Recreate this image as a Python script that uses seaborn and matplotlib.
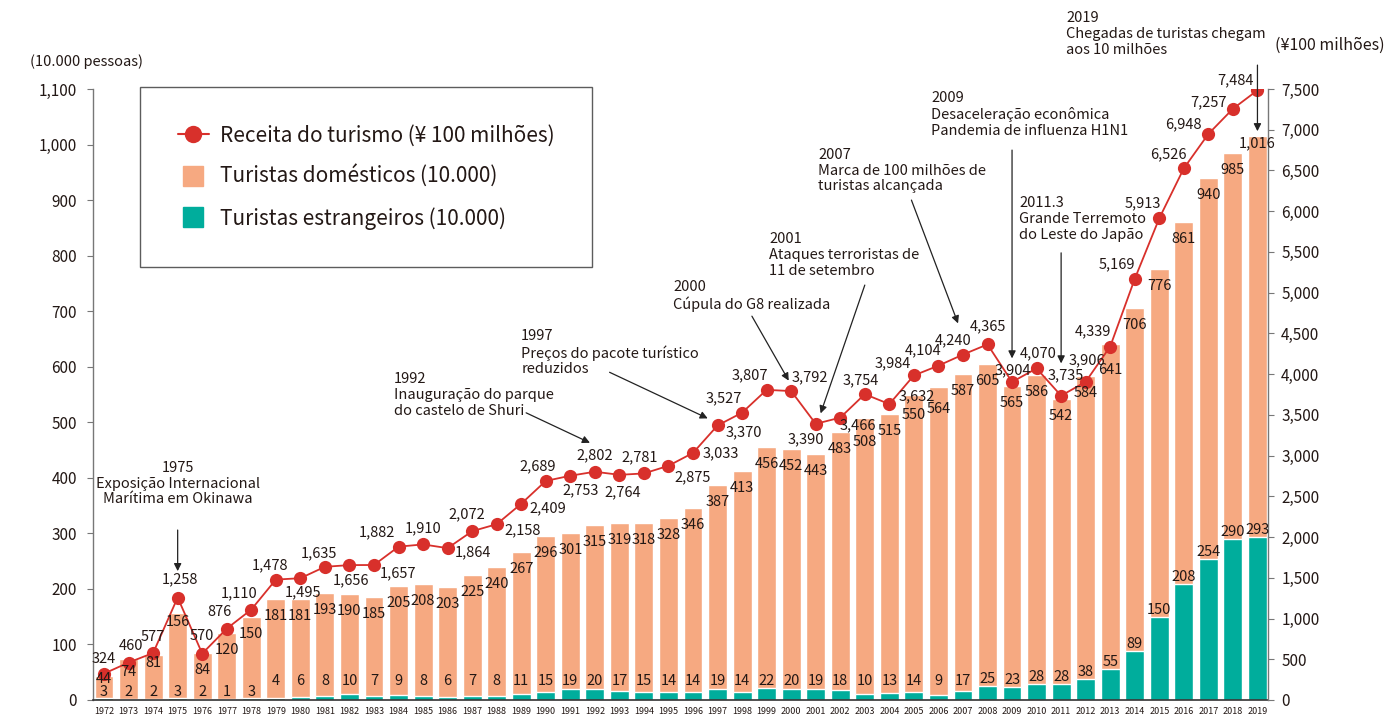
import numpy as np
import pandas as pd
import matplotlib
matplotlib.use("Agg")
import matplotlib.pyplot as plt
from matplotlib.lines import Line2D
from matplotlib.ticker import FuncFormatter, MultipleLocator
import seaborn as sns

# Okinawa tourism: tourist arrivals (10,000 people) and tourism revenue (100 million yen)
years = [1972, 1973, 1974, 1975, 1976, 1977, 1978, 1979, 1980, 1981, 1982, 1983,
         1984, 1985, 1986, 1987, 1988, 1989, 1990, 1991, 1992, 1993, 1994, 1995,
         1996, 1997, 1998, 1999, 2000, 2001, 2002, 2003, 2004, 2005, 2006, 2007,
         2008, 2009, 2010, 2011, 2012, 2013, 2014, 2015, 2016, 2017, 2018, 2019]

# total arrivals (label on top of the orange bar)
total = [44, 74, 81, 156, 84, 120, 150, 181, 181, 193, 190, 185,
         205, 208, 203, 225, 240, 267, 296, 301, 315, 319, 318, 328,
         346, 387, 413, 456, 452, 443, 483, 508, 515, 550, 564, 587,
         605, 565, 586, 542, 584, 641, 706, 776, 861, 940, 985, 1016]

# foreign arrivals
foreign = [3, 2, 2, 3, 2, 1, 3, 4, 6, 8, 10, 7,
           9, 8, 6, 7, 8, 11, 15, 19, 20, 17, 15, 14,
           14, 19, 14, 22, 20, 19, 18, 10, 13, 14, 9, 17,
           25, 23, 28, 28, 38, 55, 89, 150, 208, 254, 290, 293]

# tourism revenue
revenue = [324, 460, 577, 1258, 570, 876, 1110, 1478, 1495, 1635, 1656, 1657,
           1882, 1910, 1864, 2072, 2158, 2409, 2689, 2753, 2802, 2764, 2781, 2875,
           3033, 3370, 3527, 3807, 3792, 3390, 3466, 3754, 3632, 3984, 4104, 4240,
           4365, 3904, 4070, 3735, 3906, 4339, 5169, 5913, 6526, 6948, 7257, 7484]

legend_labels = ["Receita do turismo (¥ 100 milhões)",
                 "Turistas domésticos (10.000)",
                 "Turistas estrangeiros (10.000)"]

events = [
    "1975\nExposição Internacional\nMarítima em Okinawa",
    "1992\nInauguração do parque\ndo castelo de Shuri",
    "1997\nPreços do pacote turístico\nreduzidos",
    "2000\nCúpula do G8 realizada",
    "2001\nAtaques terroristas de\n11 de setembro",
    "2007\nMarca de 100 milhões de\nturistas alcançada",
    "2009\nDesaceleração econômica\nPandemia de influenza H1N1",
    "2011.3\nGrande Terremoto\ndo Leste do Japão",
    "2019\nChegadas de turistas chegam\naos 10 milhões",
]

ORANGE = "#f6a981"
TEAL = "#00ad9c"
RED = "#d8302b"
TXT = "#231815"

# label placement for the revenue values (pixel offsets from the point)
rev_offsets = {
    1972: (0, 15), 1973: (2, 17), 1974: (0, 16), 1975: (2, 18), 1976: (0, 18),
    1977: (-7, 17), 1978: (-12, 16), 1979: (-6, 14), 1980: (3, -14), 1981: (-6, 14),
    1982: (2, -15), 1983: (24, -8), 1984: (-22, 14), 1985: (0, 16), 1986: (25, -4),
    1987: (-5, 17), 1988: (26, -6), 1989: (27, -5), 1990: (-8, 15), 1991: (10, -15),
    1992: (0, 16), 1993: (3, -17), 1994: (-4, 16), 1995: (24, -12), 1996: (28, 0),
    1997: (26, -7), 1998: (-18, 14), 1999: (-17, 15), 2000: (19, 14), 2001: (-10, -15),
    2002: (18, -8), 2003: (-4, 14), 2004: (27, 8), 2005: (-21, 12), 2006: (-15, 15),
    2007: (-10, 14), 2008: (0, 18), 2009: (1, 12), 2010: (2, 15), 2011: (5, 20),
    2012: (1, 21), 2013: (-17, 15), 2014: (-18, 15), 2015: (-16, 15), 2016: (-15, 14),
    2017: (-25, 10), 2018: (-24, 6), 2019: (-22, 10),
}
# how far below the bar top the total label sits (pixels)
total_drop = {1972: 3, 1973: 13, 1974: 8, 1975: 9, 2003: 24, 2005: 21,
              2006: 22, 2013: 26, 2019: 8}

# event notes: text position, arrow tail, arrow head (bar index, left-axis units)
event_pos = [
    ((3.0, 430), (3.0, 306), (3.0, 232), "center"),
    ((11.8, 590), (17.2, 517), (19.8, 463), "left"),
    ((17.0, 668), (20.6, 590), (24.6, 507), "left"),
    ((23.2, 756), (26.4, 691), (27.9, 575), "left"),
    ((27.1, 842), (31.0, 747), (29.2, 516), "left"),
    ((29.1, 994), (32.9, 900), (34.8, 678), "left"),
    ((33.7, 1096), (37.0, 990), (37.0, 615), "left"),
    ((37.3, 907), (39.0, 805), (39.0, 606), "left"),
    ((39.2, 1240), (47.0, 1143), (47.0, 1024), "left"),
]

sns.set_style("white")
plt.rcParams["font.family"] = ["Noto Sans CJK JP", "DejaVu Sans"]

df = pd.DataFrame({"year": [str(y) for y in years], "total": total,
                   "foreign": foreign, "revenue": revenue})

fig = plt.figure(figsize=(13.92, 7.22), dpi=100)
ax = fig.add_axes([93 / 1392, 1 - 700 / 722, 1175 / 1392, 611 / 722])

# orange bar = total arrivals, teal bar = foreign part
sns.barplot(data=df, x="year", y="total", color=ORANGE, saturation=1,
            width=0.77, errorbar=None, ax=ax)
sns.barplot(data=df, x="year", y="foreign", color=TEAL, saturation=1,
            width=0.77, errorbar=None, ax=ax)

ax.set_xlim(-0.45, 47.43)
ax.set_ylim(0, 1100)
ax.yaxis.set_major_locator(MultipleLocator(100))
ax.yaxis.set_major_formatter(FuncFormatter(lambda v, p: f"{int(v):,}"))
ax.set_xlabel("")
ax.set_ylabel("")
ax.tick_params(axis="y", length=4.5, width=0.8, color="#777777",
               labelsize=11, labelcolor=TXT, pad=7)
ax.tick_params(axis="x", length=0, labelsize=6.5, labelcolor=TXT, pad=5)
for s in ["top", "right"]:
    ax.spines[s].set_visible(False)
ax.spines["left"].set_color("#777777")
ax.spines["left"].set_linewidth(1.0)
ax.spines["bottom"].set_color("#333333")
ax.spines["bottom"].set_linewidth(1.2)

# revenue line on the right axis
ax2 = ax.twinx()
sns.lineplot(x=np.arange(len(years)), y=revenue, ax=ax2, color=RED,
             linewidth=1.3, marker="o", markersize=9.5, markeredgewidth=0)
ax2.set_ylim(0, 7500)
ax2.set_xlim(-0.45, 47.43)
ax2.yaxis.set_major_locator(MultipleLocator(500))
ax2.yaxis.set_major_formatter(FuncFormatter(lambda v, p: f"{int(v):,}"))
ax2.set_ylabel("")
ax2.tick_params(axis="y", length=4.5, width=0.8, color="#777777",
                labelsize=11, labelcolor=TXT, pad=5)
for s in ["top", "left", "bottom"]:
    ax2.spines[s].set_visible(False)
ax2.spines["right"].set_color("#777777")
ax2.spines["right"].set_linewidth(1.0)

fs = 10.5
for i, y in enumerate(years):
    # revenue values
    dx, dy = rev_offsets[y]
    ax2.annotate(f"{revenue[i]:,}", (i, revenue[i]), xytext=(dx, dy),
                 textcoords="offset pixels", ha="center", va="center",
                 fontsize=fs, color=TXT, zorder=5)
    # total arrivals just below the bar top
    ax2.annotate(f"{total[i]:,}", (i, total[i]), xycoords=ax.transData,
                 xytext=(0, -total_drop.get(y, 17)), textcoords="offset pixels",
                 ha="center", va="center", fontsize=fs, color=TXT, zorder=5)
    # foreign arrivals just above the teal bar
    fy = 1 if i < 7 else max(foreign[i], 22)
    ax2.annotate(f"{foreign[i]:,}", (i, fy), xycoords=ax.transData,
                 xytext=(0, 0), textcoords="offset pixels",
                 ha="center", va="bottom", fontsize=fs, color=TXT, zorder=5)

# event notes with arrows
for txt, (tpos, tail, head, ha) in zip(events, event_pos):
    ax2.text(tpos[0], tpos[1], txt, transform=ax.transData, ha=ha, va="top",
             multialignment=ha, fontsize=10.5, color=TXT, linespacing=1.15,
             zorder=6)
    ax2.annotate("", xy=head, xytext=tail, xycoords=ax.transData,
                 textcoords=ax.transData, annotation_clip=False,
                 arrowprops=dict(arrowstyle="-|>", color="#222222", lw=0.9,
                                 mutation_scale=11, shrinkA=0, shrinkB=0))

# legend
handles = [
    Line2D([], [], color=RED, lw=1.5, marker="o", markersize=12.5, markeredgewidth=0),
    Line2D([], [], color=ORANGE, lw=0, marker="s", markersize=14),
    Line2D([], [], color=TEAL, lw=0, marker="s", markersize=14),
]
leg = ax2.legend(handles, legend_labels, loc="upper left",
                 bbox_to_anchor=(140 / 1392, 1 - 87 / 722),
                 bbox_transform=fig.transFigure, fontsize=15, frameon=True,
                 fancybox=False, edgecolor="#333333", borderpad=1.8,
                 labelspacing=0.9, handlelength=1.5, handletextpad=0.55,
                 borderaxespad=0)
leg.get_frame().set_linewidth(1.0)
for t in leg.get_texts():
    t.set_color(TXT)

# axis unit labels
fig.text(86 / 1392, 1 - 62 / 722, "(10.000 pessoas)", ha="center", va="center",
         fontsize=10.5, color=TXT)
fig.text(1330 / 1392, 1 - 45 / 722, "(¥100 milhões)", ha="center", va="center",
         fontsize=11.5, color=TXT)

fig.savefig("out.png", dpi=100)
